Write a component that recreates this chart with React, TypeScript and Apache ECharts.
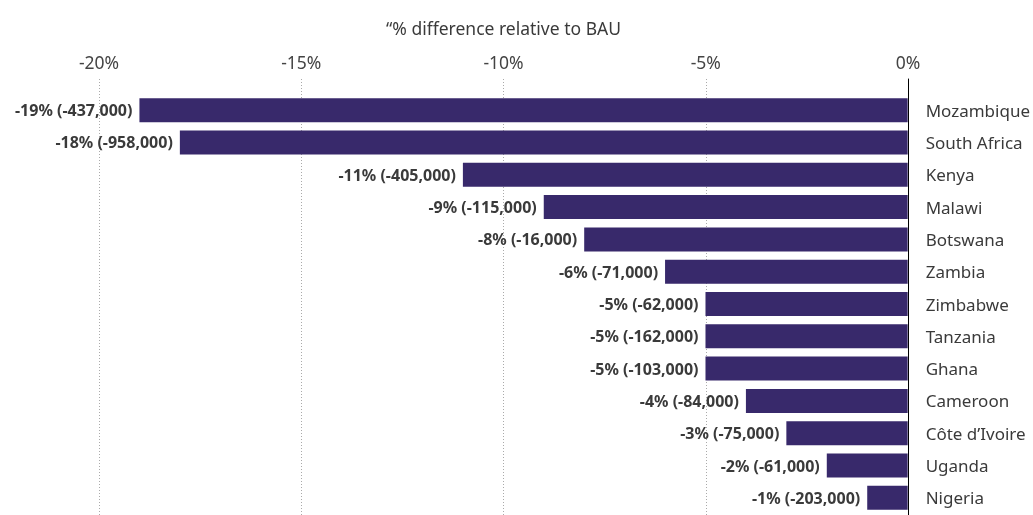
import React, { useEffect, useRef } from "react";
import * as echarts from "echarts";

const categories = [
  "Mozambique", "South Africa", "Kenya", "Malawi", "Botswana", "Zambia", "Zimbabwe",
  "Tanzania", "Ghana", "Cameroon", "Côte d’Ivoire", "Uganda", "Nigeria",
];
const pctChange = [-19, -18, -11, -9, -8, -6, -5, -5, -5, -4, -3, -2, -1];
const absChange = [
  -437000, -958000, -405000, -115000, -16000, -71000, -62000,
  -162000, -103000, -84000, -75000, -61000, -203000,
];
const axisTitle = "“% difference relative to BAU";
const xMin = -20;
const xMax = 0;
const xStep = 5;

const FONT = "Noto Sans";

export default function App() {
  const ref = useRef<HTMLDivElement>(null);
  useEffect(() => {
    if (!ref.current) return;
    const chart = echarts.init(ref.current, null, { renderer: "svg" });
    const labels = pctChange.map(
      (p, i) => `${p}% (${absChange[i].toLocaleString("en-US")})`
    );
    chart.setOption({
      animation: false,
      textStyle: { fontFamily: FONT },
      grid: [
        { left: 99, right: 125, top: 79, bottom: 0 },
        { left: 99, right: 125, top: 94, bottom: 1 },
      ],
      xAxis: [
        {
          gridIndex: 0,
          type: "value",
          position: "top",
          min: xMin,
          max: xMax,
          interval: xStep,
          name: axisTitle,
          nameLocation: "middle",
          nameGap: 42,
          nameTextStyle: { fontSize: 17.5, color: "#3a3a3a", fontFamily: FONT },
          axisLine: { show: false },
          axisTick: { show: false },
          axisLabel: {
            formatter: (v: number) => `${v}%`,
            fontSize: 17.5,
            color: "#444",
            margin: 8,
            fontFamily: FONT,
          },
          splitLine: {
            show: true,
            lineStyle: { type: [1, 2], color: "#aaa", width: 1 },
          },
        },
        {
          gridIndex: 1,
          type: "value",
          min: xMin,
          max: xMax,
          show: false,
        },
      ],
      yAxis: [
        {
          gridIndex: 0,
          type: "value",
          position: "right",
          axisLine: { show: true, onZero: false, lineStyle: { color: "#000", width: 1 } },
          axisTick: { show: false },
          axisLabel: { show: false },
          splitLine: { show: false },
        },
        {
          gridIndex: 1,
          type: "category",
          data: categories,
          inverse: true,
          position: "right",
          axisLine: { show: false },
          axisTick: { show: false },
          axisLabel: {
            fontSize: 17,
            color: "#3a3a3a",
            margin: 18,
            fontFamily: FONT,
          },
        },
      ],
      series: [
        {
          type: "bar",
          xAxisIndex: 1,
          yAxisIndex: 1,
          data: pctChange,
          barWidth: 24,
          itemStyle: { color: "#38296b" },
          label: {
            show: true,
            position: "left",
            distance: 7,
            formatter: (p: any) => labels[p.dataIndex],
            fontSize: 16,
            fontWeight: "bold",
            color: "#3a3a3a",
            fontFamily: FONT,
          },
        },
      ],
    });
    return () => chart.dispose();
  }, []);
  return (
    <div
      ref={ref}
      style={{ position: "fixed", left: 0, top: 0, width: 1033, height: 515 }}
    />
  );
}
